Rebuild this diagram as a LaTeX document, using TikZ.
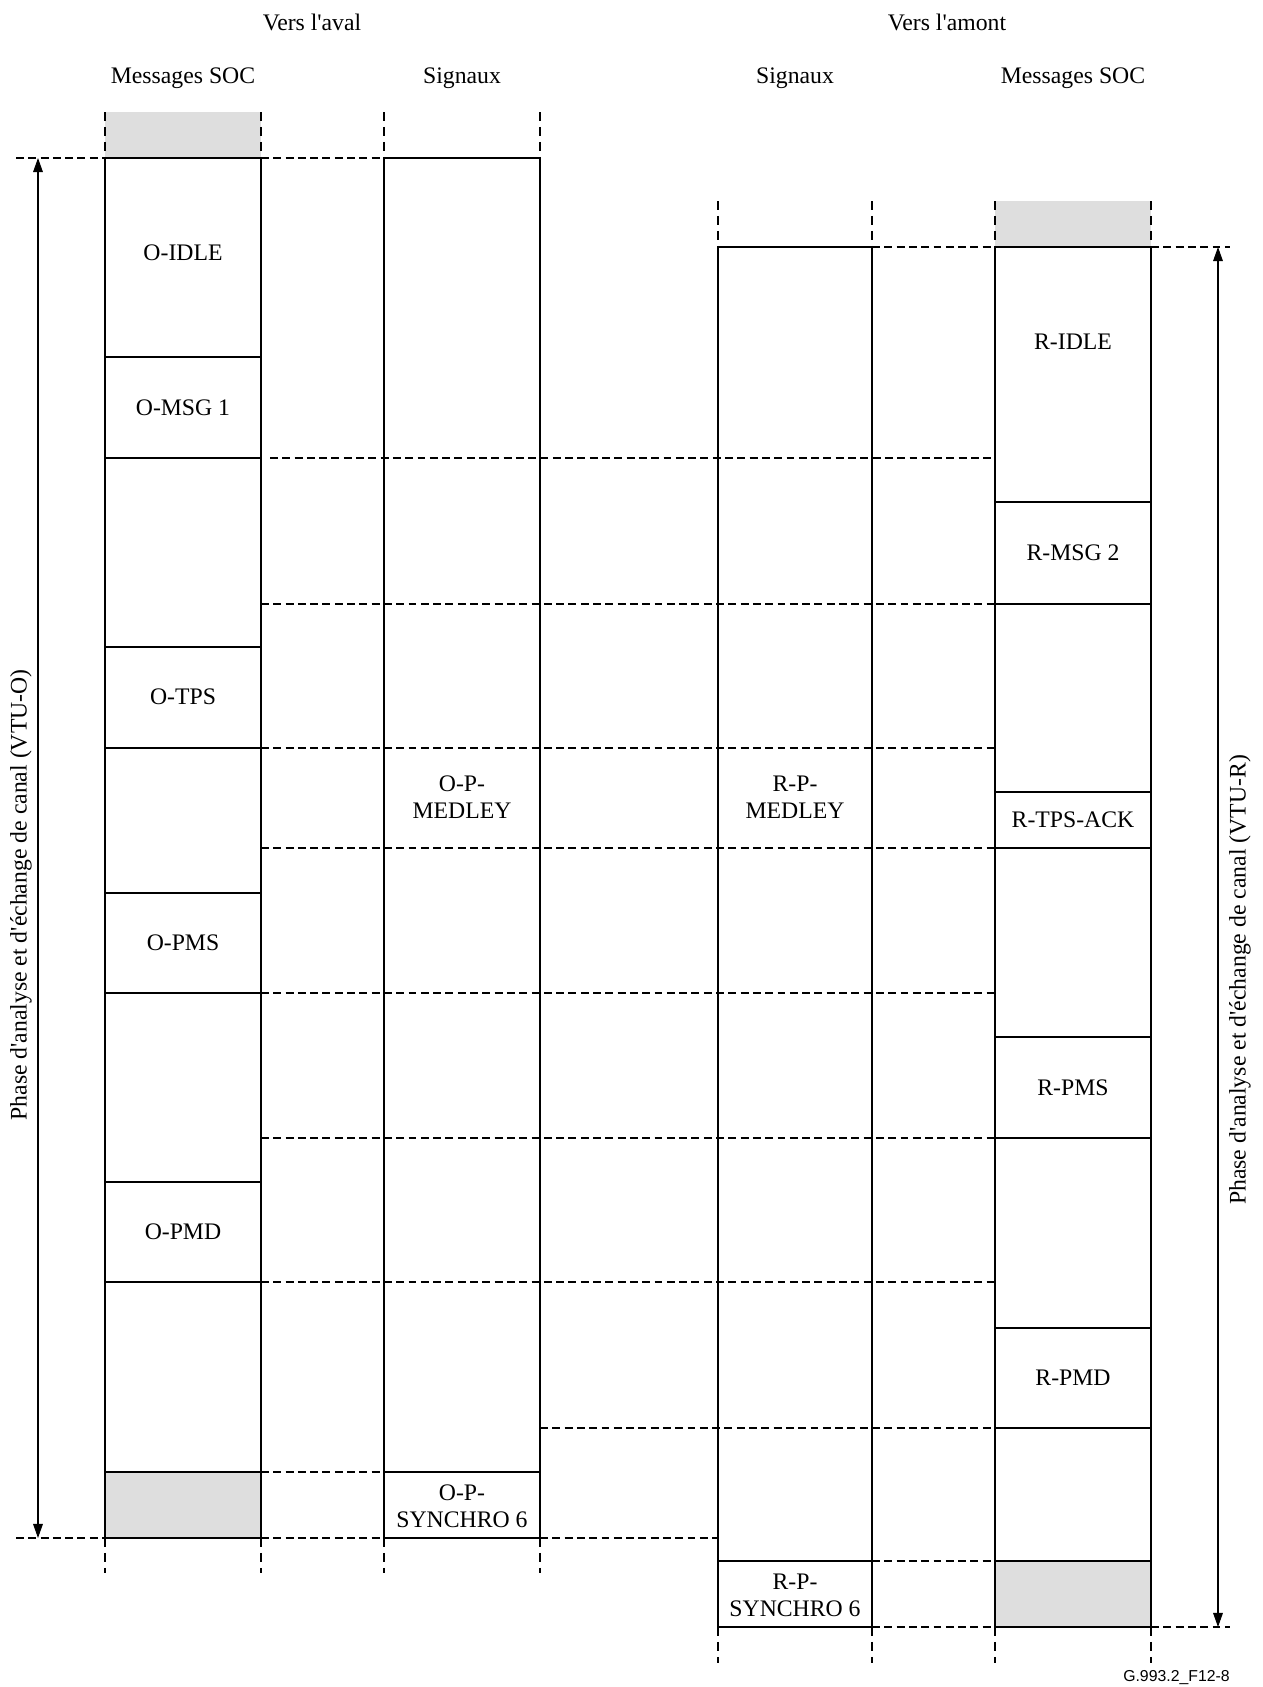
\documentclass[tikz,border=0pt]{standalone}
\usepackage{fontspec}
\setmainfont{Liberation Serif}[Ligatures=TeXOff]
\newfontfamily\figsans{Liberation Sans}
\usetikzlibrary{arrows.meta}
\definecolor{greyseg}{HTML}{DEDEDE}

\tikzset{
  seg/.style={line width=1.1pt},
  sep/.style={line width=0.6pt, dash pattern=on 4.5pt off 2.5pt},
  ext/.style={line width=0.6pt, dash pattern=on 5pt off 3.5pt},
  lbl/.style={font=\fontsize{13.5}{15.5}\selectfont, align=center, inner sep=0pt},
  span/.style={line width=0.6pt, {Triangle[length=8pt,width=5.5pt]}-{Triangle[length=8pt,width=5.5pt]}},
}

\begin{document}
\begin{tikzpicture}[x=0.02cm, y=-0.02cm]
\useasboundingbox (0,0) rectangle (1263,1687);

% headings
\node[lbl] (aval) at (312,22) {Vers l'aval};
\node[lbl] (amont) at (947,22) {Vers l'amont};
\node[lbl] (hosoc) at (183,78) {Messages SOC};
\node[lbl] (hosig) at (462,78) {Signaux};
\node[lbl] (hrsig) at (795,78) {Signaux};
\node[lbl] (hrsoc) at (1073,78) {Messages SOC};

% grey parts
\fill[greyseg] (105,112) rectangle (261,158);
\fill[greyseg] (105,1472) rectangle (261,1538);
\fill[greyseg] (995,201) rectangle (1151,247);
\fill[greyseg] (995,1561) rectangle (1151,1627);

% column extensions
\foreach \x in {105,261,384,540} {
  \draw[ext] (\x,112) -- (\x,158);
  \draw[ext] (\x,1538) -- (\x,1573);
}
\foreach \x in {718,872,995,1151} {
  \draw[ext] (\x,201) -- (\x,247);
  \draw[ext] (\x,1627) -- (\x,1663);
}

% dashed time marks
\draw[sep] (16,158) -- (105,158);
\draw[sep] (261,158) -- (384,158);
\draw[sep] (872,247) -- (995,247);
\draw[sep] (1151,247) -- (1230,247);
\draw[sep] (270,458) -- (995,458);
\foreach \y in {604,748,848,993,1138,1282}
  \draw[sep] (261,\y) -- (995,\y);
\draw[sep] (540,1428) -- (995,1428);
\draw[sep] (261,1472) -- (384,1472);
\draw[sep] (16,1538) -- (105,1538);
\draw[sep] (261,1538) -- (384,1538);
\draw[sep] (540,1538) -- (718,1538);
\draw[sep] (872,1561) -- (995,1561);
\draw[sep] (872,1627) -- (995,1627);
\draw[sep] (1151,1627) -- (1230,1627);

% VTU-O messages
\draw[seg] (105,158) rectangle (261,1538);
\foreach \y in {357,458,647,748,893,993,1182,1282,1472}
  \draw[seg] (105,\y) -- (261,\y);
\node[lbl] (oidle) at (183,253) {O-IDLE};
\node[lbl] (omsg) at (183,408) {O-MSG 1};
\node[lbl] (otps) at (183,697) {O-TPS};
\node[lbl] (opms) at (183,943) {O-PMS};
\node[lbl] (opmd) at (183,1232) {O-PMD};

% VTU-O signals
\draw[seg] (384,158) rectangle (540,1538);
\draw[seg] (384,1472) -- (540,1472);
\node[lbl] (omedley) at (462,797) {O-P-\\MEDLEY};
\node[lbl] (osync) at (462,1506) {O-P-\\SYNCHRO 6};

% VTU-R signals
\draw[seg] (718,247) rectangle (872,1627);
\draw[seg] (718,1561) -- (872,1561);
\node[lbl] (rmedley) at (795,797) {R-P-\\MEDLEY};
\node[lbl] (rsync) at (795,1595) {R-P-\\SYNCHRO 6};

% VTU-R messages
\draw[seg] (995,247) rectangle (1151,1627);
\foreach \y in {502,604,792,848,1037,1138,1328,1428,1561}
  \draw[seg] (995,\y) -- (1151,\y);
\node[lbl] (ridle) at (1073,342) {R-IDLE};
\node[lbl] (rmsg) at (1073,553) {R-MSG 2};
\node[lbl] (rtps) at (1073,820) {R-TPS-ACK};
\node[lbl] (rpms) at (1073,1088) {R-PMS};
\node[lbl] (rpmd) at (1073,1378) {R-PMD};

% phase spans
\coordinate (otop) at (38,158);
\coordinate (obot) at (38,1538);
\coordinate (rtop) at (1218,247);
\coordinate (rbot) at (1218,1627);
\draw[span] (otop) -- (obot);
\draw[span] (rtop) -- (rbot);
\node[lbl, rotate=90] (ophase) at (21,895) {Phase d'analyse et d'échange de canal (VTU-O)};
\node[lbl, rotate=90] (rphase) at (1240,980) {Phase d'analyse et d'échange de canal (VTU-R)};

\node[anchor=east, inner sep=0pt, font=\figsans\fontsize{9}{10}\selectfont] (ref) at (1230,1678) {G.993.2\_F12-8};
\end{tikzpicture}
\end{document}
